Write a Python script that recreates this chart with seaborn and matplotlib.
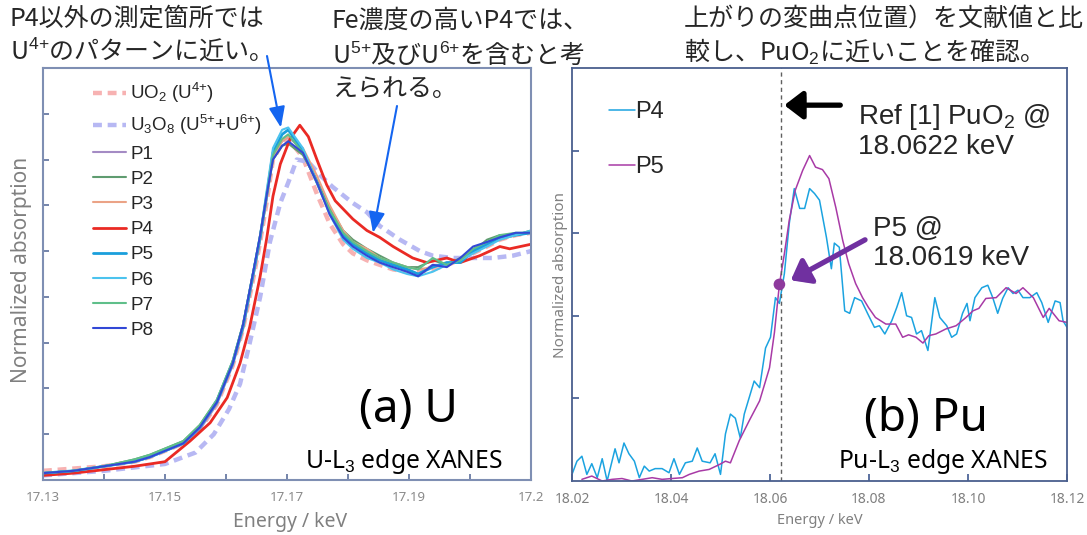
import matplotlib
matplotlib.use('Agg')
import matplotlib.pyplot as plt
import matplotlib.patheffects as pe
import seaborn as sns

# (a) U L3-edge XANES
E_U = [17.1300, 17.1350, 17.1400, 17.1450, 17.1475, 17.1530, 17.1557, 17.1585, 17.1611, 17.1628,
       17.1644, 17.1656, 17.1667, 17.1677, 17.1692, 17.1702, 17.1726, 17.1749, 17.1770, 17.1792,
       17.1808, 17.1831, 17.1852, 17.1874, 17.1897, 17.1915, 17.1939, 17.1962, 17.1984, 17.2005,
       17.2028, 17.2049, 17.2075, 17.2100]
UO2 = [0.04, 0.05, 0.06, 0.08, 0.10, 0.16, 0.22, 0.33, 0.50, 0.66, 0.87, 1.04, 1.22, 1.40, 1.47, 1.49, 1.41,
       1.25, 1.12, 1.03, 0.99, 0.96, 0.94, 0.92, 0.91, 0.91, 0.92, 0.94, 0.96, 0.99, 1.02, 1.05, 1.07, 1.08]
P1 = [0.03, 0.04, 0.06, 0.08, 0.10, 0.16, 0.22, 0.33, 0.50, 0.66, 0.88, 1.05, 1.24, 1.41, 1.48, 1.50, 1.44,
      1.31, 1.18, 1.08, 1.03, 1.00, 0.96, 0.94, 0.92, 0.90, 0.94, 0.94, 0.96, 0.99, 1.03, 1.05, 1.07, 1.08]
P2 = [0.03, 0.04, 0.06, 0.09, 0.11, 0.17, 0.24, 0.35, 0.52, 0.68, 0.90, 1.06, 1.24, 1.40, 1.46, 1.47, 1.42,
      1.31, 1.19, 1.09, 1.05, 1.01, 0.98, 0.95, 0.93, 0.93, 0.96, 0.94, 0.97, 1.00, 1.05, 1.07, 1.07, 1.09]
P3 = [0.03, 0.04, 0.06, 0.08, 0.10, 0.16, 0.23, 0.34, 0.51, 0.66, 0.88, 1.05, 1.23, 1.41, 1.48, 1.50, 1.45,
      1.33, 1.20, 1.09, 1.04, 1.01, 0.97, 0.95, 0.93, 0.92, 0.93, 0.95, 0.95, 1.00, 1.03, 1.05, 1.07, 1.08]
P5 = [0.03, 0.04, 0.06, 0.08, 0.10, 0.16, 0.23, 0.34, 0.51, 0.67, 0.89, 1.06, 1.25, 1.43, 1.51, 1.53, 1.44,
      1.30, 1.17, 1.07, 1.03, 0.99, 0.96, 0.94, 0.92, 0.90, 0.93, 0.95, 0.95, 1.00, 1.03, 1.06, 1.07, 1.08]
P6 = [0.03, 0.04, 0.06, 0.08, 0.10, 0.16, 0.23, 0.35, 0.52, 0.68, 0.90, 1.07, 1.27, 1.45, 1.53, 1.54, 1.45,
      1.30, 1.16, 1.05, 1.01, 0.97, 0.95, 0.92, 0.90, 0.89, 0.91, 0.94, 0.96, 0.99, 1.02, 1.05, 1.07, 1.09]
P7 = [0.03, 0.04, 0.06, 0.09, 0.11, 0.17, 0.24, 0.35, 0.52, 0.68, 0.90, 1.07, 1.25, 1.42, 1.49, 1.51, 1.43,
      1.30, 1.18, 1.08, 1.04, 1.00, 0.97, 0.95, 0.93, 0.92, 0.97, 0.94, 0.96, 1.01, 1.04, 1.07, 1.08, 1.08]
P8 = [0.03, 0.04, 0.06, 0.08, 0.10, 0.16, 0.23, 0.34, 0.51, 0.68, 0.90, 1.07, 1.25, 1.40, 1.46, 1.48, 1.43,
      1.30, 1.16, 1.06, 1.02, 0.98, 0.95, 0.93, 0.91, 0.89, 0.94, 0.93, 0.97, 1.02, 1.04, 1.06, 1.08, 1.08]

E_P4 = [17.1300, 17.1350, 17.1400, 17.1450, 17.1500, 17.1541, 17.1574, 17.1602, 17.1623, 17.1639,
        17.1656, 17.1667, 17.1677, 17.1689, 17.1705, 17.1721, 17.1735, 17.1749, 17.1765, 17.1779,
        17.1808, 17.1831, 17.1852, 17.1874, 17.1906, 17.1929, 17.1962, 17.1984, 17.2016, 17.2049,
        17.2065, 17.2100]
P4 = [0.02, 0.03, 0.045, 0.06, 0.08, 0.17, 0.25, 0.36, 0.51, 0.67, 0.89, 1.06, 1.24, 1.38, 1.49, 1.55,
      1.50, 1.40, 1.29, 1.22, 1.14, 1.09, 1.06, 1.02, 0.97, 0.95, 0.97, 0.95, 0.98, 1.02, 1.01, 1.03]

E_U3O8 = [17.1300, 17.1400, 17.1500, 17.1550, 17.1580, 17.1605, 17.1623, 17.1639, 17.1656, 17.1672,
          17.1689, 17.1705, 17.1716, 17.1735, 17.1755, 17.1775, 17.1808, 17.1831, 17.1852, 17.1885,
          17.1918, 17.1939, 17.1972, 17.2005, 17.2038, 17.2070, 17.2100]
U3O8 = [0.02, 0.04, 0.07, 0.12, 0.20, 0.31, 0.42, 0.60, 0.80, 1.04, 1.21, 1.32, 1.40, 1.39, 1.33, 1.28,
        1.21, 1.17, 1.11, 1.05, 1.00, 0.98, 0.97, 0.97, 0.97, 0.98, 1.00]

u_ticks = [17.13, 17.15, 17.17, 17.19, 17.21]
u_ticklabels = ['17.13', '17.15', '17.17', '17.19', '17.2']

# (b) Pu L3-edge XANES
E_PU4 = [18.0200, 18.0210, 18.0220, 18.0230, 18.0240, 18.0251, 18.0261, 18.0271, 18.0287, 18.0295,
         18.0305, 18.0315, 18.0326, 18.0336, 18.0346, 18.0356, 18.0368, 18.0382, 18.0396, 18.0406,
         18.0417, 18.0429, 18.0443, 18.0453, 18.0463, 18.0479, 18.0489, 18.0500, 18.0510, 18.0520,
         18.0530, 18.0540, 18.0548, 18.0558, 18.0568, 18.0579, 18.0591, 18.0601, 18.0611, 18.0619,
         18.0629, 18.0639, 18.0649, 18.0660, 18.0670, 18.0680, 18.0690, 18.0700, 18.0714, 18.0724,
         18.0730, 18.0740, 18.0751, 18.0761, 18.0771, 18.0785, 18.0797, 18.0811, 18.0821, 18.0832,
         18.0846, 18.0856, 18.0866, 18.0876, 18.0886, 18.0896, 18.0906, 18.0919, 18.0933, 18.0943,
         18.0957, 18.0967, 18.0977, 18.0989, 18.0998, 18.1004, 18.1014, 18.1028, 18.1040, 18.1050,
         18.1060, 18.1070, 18.1081, 18.1091, 18.1101, 18.1111, 18.1125, 18.1139, 18.1149, 18.1162,
         18.1176, 18.1186, 18.1192, 18.1200]
PU_P4 = [0.08, 0.24, 0.30, 0.08, 0.21, 0.04, 0.27, 0.00, 0.39, 0.22,
         0.46, 0.33, 0.24, 0.04, 0.18, 0.12, 0.15, 0.15, 0.10, 0.27,
         0.08, 0.22, 0.24, 0.40, 0.24, 0.22, 0.33, 0.08, 0.57, 0.81,
         0.76, 0.52, 0.81, 1.01, 1.21, 1.13, 1.61, 1.74, 2.22, 2.15,
         2.51, 3.12, 3.54, 3.30, 3.30, 3.54, 3.48, 3.40, 2.95, 2.57,
         2.88, 2.83, 2.06, 2.03, 2.22, 2.18, 2.03, 1.86, 1.88, 1.78,
         1.94, 2.10, 2.28, 2.00, 1.98, 1.78, 1.82, 1.58, 2.22, 1.98,
         1.88, 1.74, 1.78, 2.03, 2.15, 1.94, 2.22, 2.34, 2.37, 2.22,
         2.03, 2.21, 2.34, 2.27, 2.31, 2.22, 2.22, 2.28, 2.16, 1.92,
         2.18, 2.16, 1.94, 1.86]

E_PU5 = [18.0220, 18.0240, 18.0261, 18.0281, 18.0301, 18.0321, 18.0342, 18.0362, 18.0382, 18.0402,
         18.0423, 18.0437, 18.0457, 18.0477, 18.0498, 18.0510, 18.0520, 18.0538, 18.0558, 18.0579,
         18.0599, 18.0609, 18.0619, 18.0629, 18.0639, 18.0651, 18.0666, 18.0680, 18.0692, 18.0706,
         18.0719, 18.0733, 18.0747, 18.0759, 18.0773, 18.0787, 18.0799, 18.0813, 18.0834, 18.0854,
         18.0868, 18.0880, 18.0895, 18.0909, 18.0921, 18.0935, 18.0955, 18.0976, 18.0996, 18.1010,
         18.1022, 18.1036, 18.1057, 18.1077, 18.1097, 18.1111, 18.1132, 18.1152, 18.1164, 18.1184,
         18.1200]
PU_P5 = [0.02, 0.06, 0.00, 0.02, 0.03, 0.00, 0.02, 0.04, 0.02, 0.03,
         0.04, 0.08, 0.12, 0.14, 0.20, 0.24, 0.22, 0.49, 0.73, 0.97,
         1.37, 1.80, 2.38, 2.75, 3.16, 3.52, 3.76, 3.94, 3.80, 3.77,
         3.66, 3.31, 2.91, 2.63, 2.39, 2.22, 2.10, 1.98, 1.90, 1.90,
         1.74, 1.77, 1.74, 1.67, 1.76, 1.78, 1.84, 1.88, 1.98, 2.06,
         2.09, 2.21, 2.22, 2.34, 2.27, 2.34, 2.22, 1.98, 2.09, 1.94,
         1.92]

ref_pu = 18.0622   # Ref [1] PuO2 edge
p5_edge = 18.0619  # P5 inflection
pu_ticks = [18.02, 18.04, 18.06, 18.08, 18.10, 18.12]

# --- style
sns.set_theme(style='white')
JP = ['Noto Sans CJK JP', 'DejaVu Sans']
LAT = ['Noto Sans', 'DejaVu Sans']
plt.rcParams['font.family'] = ['Liberation Sans', 'Noto Sans CJK JP', 'DejaVu Sans']
plt.rcParams['mathtext.fontset'] = 'custom'
plt.rcParams['mathtext.rm'] = 'Liberation Sans'
plt.rcParams['mathtext.it'] = 'Liberation Sans:italic'
plt.rcParams['mathtext.bf'] = 'Liberation Sans:bold'

W, H = 1087, 535
def fx(x):
    return x / W
def fy(y):
    return 1 - y / H

fig = plt.figure(figsize=(W / 100, H / 100), dpi=100)
ax1 = fig.add_axes([fx(43), fy(480), fx(531 - 43), (480 - 68) / H])
ax2 = fig.add_axes([fx(572), fy(481), fx(1067 - 572), (481 - 68) / H])

# --- (a) U panel
dash = (0, (2.0, 1.3))
sns.lineplot(x=E_U, y=UO2, ax=ax1, color='#f7b2b2', lw=3.2, linestyle=dash, label='UO$_2$ (U$^{4{+}}$)')
sns.lineplot(x=E_U3O8, y=U3O8, ax=ax1, color='#b7b8f3', lw=3.2, linestyle=dash,
             label='U$_3$O$_8$ (U$^{5{+}}$+U$^{6{+}}$)')
sns.lineplot(x=E_U, y=P1, ax=ax1, color='#a48bc4', lw=1.5, label='P1')
sns.lineplot(x=E_U, y=P2, ax=ax1, color='#5f9c70', lw=1.5, label='P2')
sns.lineplot(x=E_U, y=P3, ax=ax1, color='#eba386', lw=1.5, label='P3')
sns.lineplot(x=E_P4, y=P4, ax=ax1, color='#ea2a24', lw=2.0, label='P4')
sns.lineplot(x=E_U, y=P5, ax=ax1, color='#1a9fdc', lw=2.0, label='P5')
sns.lineplot(x=E_U, y=P6, ax=ax1, color='#4cc3ee', lw=1.5, label='P6')
sns.lineplot(x=E_U, y=P7, ax=ax1, color='#5fbf8a', lw=1.5, label='P7')
sns.lineplot(x=E_U, y=P8, ax=ax1, color='#3248d6', lw=1.5, label='P8')

ax1.set_xlim(17.13, 17.21)
ax1.set_ylim(0, 1.8)
ax1.set_xticks(u_ticks)
ax1.set_xticklabels(u_ticklabels)
ax1.set_xticks([17.14, 17.16, 17.18, 17.20], minor=True)
ax1.set_yticks([0.2, 0.4, 0.6, 0.8, 1.0, 1.2, 1.4, 1.6])
ax1.set_xlabel('')
ax1.set_ylabel('')
for s in ax1.spines.values():
    s.set_color('#7f8fb3')
    s.set_linewidth(1.5)
ax1.tick_params(which='both', direction='in', length=4, width=1.2, color='#5c6f9c',
                bottom=True, left=True, labelleft=False, labelsize=9.5, labelcolor='#8a8a8a', pad=8)
for t in ax1.get_xticklabels():
    t.set_family(LAT)

ax1.legend(loc='upper left', bbox_to_anchor=(0.075, 1.0), frameon=False, fontsize=13.5,
           handlelength=1.8, handletextpad=0.2, labelspacing=0.43, borderaxespad=0.3)

ax1.text(0.748, 0.17, '(a) U', transform=ax1.transAxes, ha='center', va='center',
         fontsize=33, family=LAT, color='black')
fig.text(fx(305), fy(462), 'U-L$_3$ edge XANES', ha='left', va='center', fontsize=17.8,
         family=LAT, color='black')

# blue pointer arrows
blue_arrow = dict(arrowstyle='-|>,head_length=0.9,head_width=0.35', color='#1465f0', lw=1.5,
                  mutation_scale=14, shrinkA=0, shrinkB=0)
ax1.annotate('', xy=(17.1690, 1.54), xytext=(267, H - 56), textcoords='figure pixels',
             arrowprops=blue_arrow)
ax1.annotate('', xy=(17.1841, 1.08), xytext=(397, H - 106), textcoords='figure pixels',
             arrowprops=blue_arrow)

# --- (b) Pu panel
sns.lineplot(x=E_PU4, y=PU_P4, ax=ax2, color='#1ba3e0', lw=1.1, label='P4')
sns.lineplot(x=E_PU5, y=PU_P5, ax=ax2, color='#a83aa6', lw=1.1, label='P5')
ax2.axvline(ref_pu, color='#606060', lw=1.0, linestyle=(0, (3, 2.5)))
i5 = E_PU5.index(p5_edge)
sns.scatterplot(x=[E_PU5[i5]], y=[PU_P5[i5]], ax=ax2, color='#8e3a9d', s=70, edgecolor='none',
                zorder=5, legend=False)

ax2.set_xlim(18.02, 18.12)
ax2.set_ylim(0, 5)
ax2.set_xticks(pu_ticks)
ax2.set_xticklabels([f'{v:.2f}' for v in pu_ticks])
ax2.set_yticks([1, 2, 3, 4])
ax2.set_xlabel('')
ax2.set_ylabel('')
for s in ax2.spines.values():
    s.set_color('#4a5f8e')
    s.set_linewidth(1.3)
ax2.tick_params(which='both', direction='in', length=5, width=1.1, color='#2f4a86',
                bottom=True, left=True, labelleft=False, labelsize=10, labelcolor='#7f7f7f', pad=8)
for t in ax2.get_xticklabels():
    t.set_family(LAT)

ax2.legend(loc='upper left', bbox_to_anchor=(0.042, 0.96), frameon=False, fontsize=17,
           handlelength=1.1, handletextpad=0.0, labelspacing=1.4, borderaxespad=0.3)

shadow = [pe.SimplePatchShadow(offset=(2, -2), alpha=0.3), pe.Normal()]
ax2.annotate('', xy=(18.0629, 4.55), xytext=(18.0742, 4.55),
             arrowprops=dict(arrowstyle='-|>,head_length=0.55,head_width=0.42', color='black', lw=3.8,
                             mutation_scale=20, shrinkA=0, shrinkB=0, path_effects=shadow))
ax2.annotate('', xy=(18.0642, 2.43), xytext=(18.0792, 2.92),
             arrowprops=dict(arrowstyle='-|>,head_length=0.55,head_width=0.42', color='#7030a0', lw=3.8,
                             mutation_scale=20, shrinkA=0, shrinkB=0, path_effects=shadow))

fig.text(fx(858), fy(131), 'Ref [1] PuO$_2$ @\n18.0622 keV', ha='left', va='center',
         fontsize=20, linespacing=1.15)
fig.text(fx(873), fy(244), 'P5 @\n18.0619 keV', ha='left', va='center', fontsize=20, linespacing=1.15)

ax2.text(0.715, 0.15, '(b) Pu', transform=ax2.transAxes, ha='center', va='center',
         fontsize=33, family=LAT, color='black')
fig.text(fx(838), fy(462), 'Pu-L$_3$ edge XANES', ha='left', va='center', fontsize=17.8,
         family=LAT, color='black')

# --- axis titles
fig.text(fx(22), fy(270), 'Normalized absorption', rotation=90, ha='center', va='center',
         fontsize=15, color='#808080', family=LAT)
fig.text(fx(290), fy(522), 'Energy / keV', ha='center', va='center', fontsize=14,
         color='#808080', family=LAT)
fig.text(fx(561), fy(275), 'Normalized absorption', rotation=90, ha='center', va='center',
         fontsize=11, color='#808080', family=LAT)
fig.text(fx(820), fy(520), 'Energy / keV', ha='center', va='center', fontsize=10.5,
         color='#808080', family=LAT)

# --- Japanese captions
fig.text(fx(10), fy(6), 'P4以外の測定箇所では\nU$^{4{+}}$のパターンに近い。', ha='left', va='top',
         fontsize=18, family=JP, linespacing=1.2)
fig.text(fx(332), fy(8), 'Fe濃度の高いP4では、\nU$^{5{+}}$及びU$^{6{+}}$を含むと考\nえられる。', ha='left',
         va='top', fontsize=18, family=JP, linespacing=1.35)
fig.text(fx(684), fy(6), '上がりの変曲点位置）を文献値と比\n較し、PuO$_2$に近いことを確認。', ha='left',
         va='top', fontsize=18, family=JP, linespacing=1.2)

fig.savefig('out.png', dpi=100)
